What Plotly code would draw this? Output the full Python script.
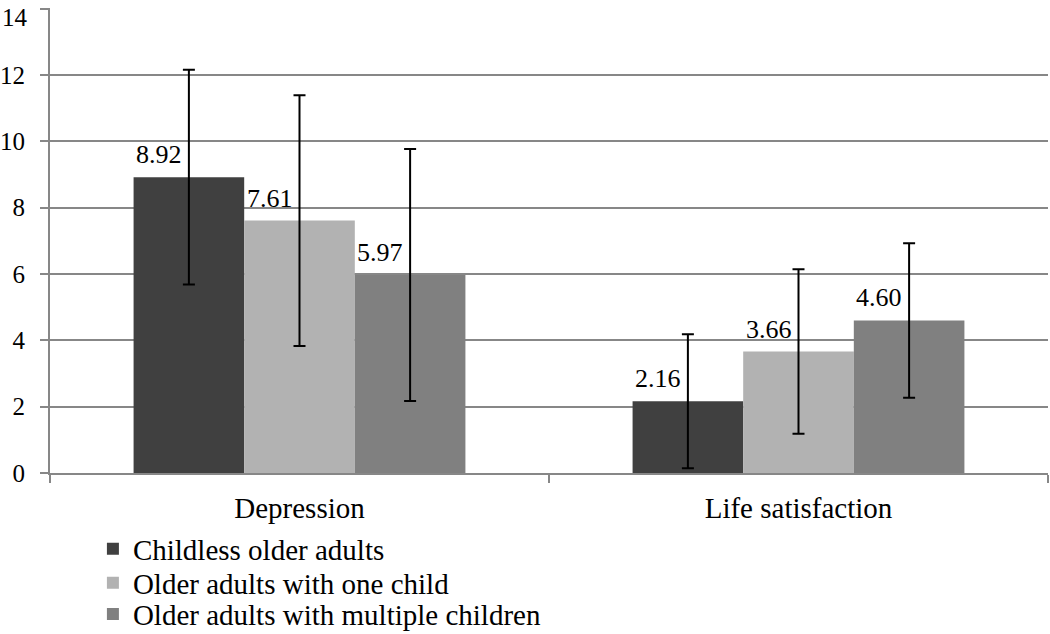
import plotly.graph_objects as go

categories = ["Depression", "Life satisfaction"]
series_names = ["Childless older adults", "Older adults with one child", "Older adults with multiple children"]
means = [
    [8.92, 2.16],
    [7.61, 3.66],
    [5.97, 4.60],
]
sds = [
    [3.24, 2.02],
    [3.78, 2.48],
    [3.80, 2.33],
]
y_ticks = [0, 2, 4, 6, 8, 10, 12, 14]
colors = ["#404040", "#b2b2b2", "#808080"]
FONT = '"Liberation Serif", "Times New Roman", "DejaVu Serif", serif'

legend_ids = ["legend", "legend2", "legend3"]
legend_y = [-0.1634, -0.2366, -0.3033]

fig = go.Figure()
for name, m, s, c, lg in zip(series_names, means, sds, colors, legend_ids):
    fig.add_trace(go.Bar(
        x=categories, y=m, name=name, marker=dict(color=c, line=dict(width=0)),
        legend=lg,
        error_y=dict(type="data", array=s, visible=True, color="black", thickness=2, width=6),
    ))

bar_px = 110.7
for i, m in enumerate(means):
    for cat, v in zip(categories, m):
        fig.add_annotation(x=cat, y=v, xref="x", yref="y", text=f"{v:.2f}", showarrow=False,
                           xanchor="center", yanchor="bottom", xshift=(i - 1) * bar_px - 30, yshift=6,
                           font=dict(family=FONT, size=26, color="black"))

# top tick label (kept inside the page like the reference)
tick_text = [str(v) if v != y_ticks[-1] else "" for v in y_ticks]
fig.add_annotation(x=0, xref="paper", y=y_ticks[-1], yref="y", text=str(y_ticks[-1]), showarrow=False,
                   xanchor="right", yanchor="top", xshift=-20, yshift=7,
                   font=dict(family=FONT, size=25, color="black"))

legend_common = dict(x=0.043, xanchor="left", yanchor="middle", font=dict(family=FONT, size=29, color="black"),
                     bgcolor="rgba(0,0,0,0)", itemwidth=30, borderwidth=0)
fig.update_layout(
    width=1050, height=634,
    margin=dict(l=50, r=2, t=8, b=161, autoexpand=False),
    paper_bgcolor="white", plot_bgcolor="white",
    barmode="group", bargap=0.335, bargroupgap=0,
    font=dict(family=FONT, color="black"),
    showlegend=True,
    legend=dict(y=legend_y[0], **legend_common),
    legend2=dict(y=legend_y[1], **legend_common),
    legend3=dict(y=legend_y[2], **legend_common),
    xaxis=dict(showline=True, linecolor="#878787", linewidth=2, ticks="outside", tickson="boundaries",
               ticklen=8, tickcolor="#878787", tickwidth=2, tickfont=dict(family=FONT, size=29, color="black"),
               ticklabelstandoff=8, showgrid=False),
    yaxis=dict(range=[0, 14.02], tickmode="array", tickvals=y_ticks, ticktext=tick_text,
               showline=True, linecolor="#878787", linewidth=2,
               ticks="outside", ticklen=8, tickcolor="#878787", tickwidth=2,
               showgrid=True, gridcolor="#878787", gridwidth=2, zeroline=False,
               tickfont=dict(family=FONT, size=25, color="black"), ticklabelstandoff=10),
)
fig.write_html("out.html", config={"displayModeBar": False},
               post_script="document.body.style.margin='0';document.body.style.padding='0';")
